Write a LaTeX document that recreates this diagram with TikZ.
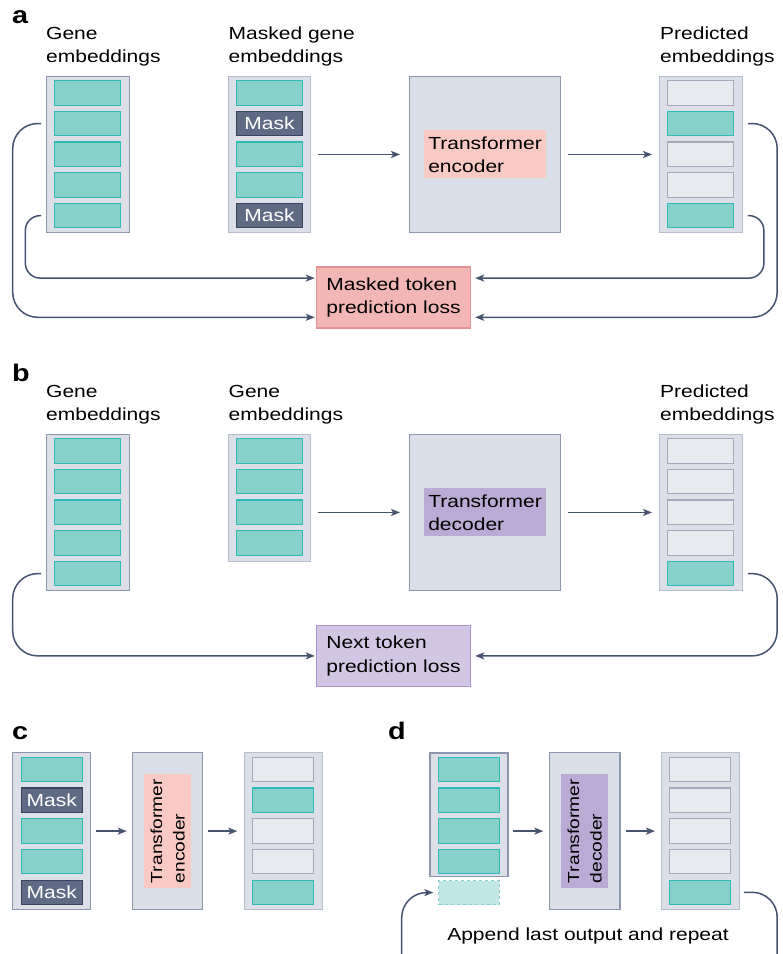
\documentclass[tikz,border=0pt]{standalone}
\usepackage{fontspec}
\setmainfont{Liberation Sans}[FakeStretch=1.2]
\usetikzlibrary{arrows.meta,calc}
\definecolor{colfill}{HTML}{DCDFE8}
\definecolor{colbd}{HTML}{8D96AE}
\definecolor{colbdl}{HTML}{B7BECE}
\definecolor{tealfill}{HTML}{88D0CC}
\definecolor{tealbd}{HTML}{2FBAB5}
\definecolor{maskfill}{HTML}{5F6A85}
\definecolor{maskbd}{HTML}{3A4462}
\definecolor{grayfill}{HTML}{E8EAEF}
\definecolor{graybd}{HTML}{A3A9BB}
\definecolor{tfill}{HTML}{DADEE7}
\definecolor{tbd}{HTML}{8E98B0}
\definecolor{pinklab}{HTML}{F9C9C4}
\definecolor{lossafill}{HTML}{F2B7B5}
\definecolor{lossabd}{HTML}{E59191}
\definecolor{purplab}{HTML}{B9ABD4}
\definecolor{lossbfill}{HTML}{D1C7E4}
\definecolor{lossbbd}{HTML}{A894CC}
\definecolor{arr}{HTML}{46536E}
\definecolor{dashfill}{HTML}{C0E6E6}
\newcommand\mainsz{\fontsize{17.5}{23.3}\selectfont}
\newcommand\vsz{\fontsize{16}{22.5}\selectfont}
\newcommand\lettersz{\fontsize{24}{24}\selectfont\bfseries}
\begin{document}
\begin{tikzpicture}[x=1pt,y=-1pt,
  col/.style={draw=colbd, fill=colfill, line width=1.2pt, inner sep=0pt, anchor=north west},
  coll/.style={col, draw=colbdl},
  cellbase/.style={inner sep=0pt, anchor=north west, line width=1.1pt, minimum height=24.5pt, font=\mainsz},
  tcell/.style={cellbase, fill=tealfill, draw=tealbd},
  gcell/.style={cellbase, fill=grayfill, draw=graybd},
  mcell/.style={cellbase, fill=maskfill, draw=maskbd, text=white},
  tbox/.style={draw=tbd, fill=tfill, line width=1.2pt, anchor=north west, inner sep=0pt},
  hlab/.style={fill=pinklab, inner xsep=4.3pt, inner ysep=0pt, minimum height=48pt, align=left, font=\mainsz, text=black},
  vlab/.style={rotate=90, inner xsep=5pt, inner ysep=0pt, minimum height=47pt, align=left, font=\vsz, text=black},
  loss/.style={inner xsep=10pt, inner ysep=0pt, minimum height=61pt, line width=1.2pt, align=left, font=\mainsz},
  header/.style={anchor=base west, align=left, inner sep=0pt, font=\mainsz},
  panel/.style={anchor=base west, inner sep=0pt, font=\lettersz},
  conn/.style={draw=arr, line width=1.5pt, -{Stealth[length=9pt,width=7pt,inset=2.2pt]}}
]
\useasboundingbox (0,0) rectangle (783,954);
\clip (0,0) rectangle (783,954);
\fill[white] (0,0) rectangle (783,954);

% ---------------- panel a ----------------
\node[panel] (pla) at (12,23) {a};
\node[header] (ha1) at (46,62.3) {Gene\\embeddings};
\node[header] (ha2) at (228.5,62.3) {Masked gene\\embeddings};
\node[header] (ha3) at (660,62.3) {Predicted\\embeddings};

\node[col, minimum width=83.3pt, minimum height=156.3pt] (ga) at (45.7,75.7) {};
\foreach \s [count=\i] in {tcell,tcell,tcell,tcell,tcell}
  \node[\s, minimum width=65.7pt] (ga\i) at ({54.3}, {80+(\i-1)*30.7}) {};

\node[coll, minimum width=82.3pt, minimum height=156.3pt] (ma) at (227.7,75.7) {};
\foreach \s/\t [count=\i] in {tcell/,mcell/Mask,tcell/,tcell/,mcell/Mask}
  \node[\s, minimum width=66pt] (ma\i) at ({236}, {80+(\i-1)*30.7}) {\t};

\node[tbox, minimum width=151pt, minimum height=156.3pt] (ta) at (409,75.7) {};
\node[hlab] (tal) at (ta.center) {Transformer\\encoder};

\node[coll, minimum width=83pt, minimum height=156.3pt] (pa) at (659,75.7) {};
\foreach \s [count=\i] in {gcell,tcell,gcell,gcell,tcell}
  \node[\s, minimum width=66pt] (pa\i) at ({667}, {80+(\i-1)*30.7}) {};

\node[loss, fill=lossafill, draw=lossabd] (la) at (393.5,297.5) {Masked token\\prediction loss};

\draw[conn] ($(ma.east |- ta.center)+(7,0)$) -- ($(ta.west)+(-9,0)$);
\draw[conn] ($(ta.east)+(7,0)$) -- ($(pa.west |- ta.center)+(-7,0)$);

\draw[conn, rounded corners=25pt] ($(ga.west |- ga2.west)+(-4.7,0)$) -- ++(-28.3,0) |- ($(la.south west)+(-1,-11.3)$);
\draw[conn, rounded corners=15pt] ($(ga.west |- ga5.west)+(-4.7,0)$) -- ++(-15.7,0) |- ($(la.north west)+(-1,11.7)$);
\draw[conn, rounded corners=25pt] ($(pa.east |- pa2.east)+(4.7,0)$) -- ++(29.3,0) |- ($(la.south east)+(4,-11.3)$);
\draw[conn, rounded corners=15pt] ($(pa.east |- pa5.east)+(4.7,0)$) -- ++(16,0) |- ($(la.north east)+(4,11.7)$);

% ---------------- panel b ----------------
\node[panel] (plb) at (12,381) {b};
\node[header] (hb1) at (46,420.7) {Gene\\embeddings};
\node[header] (hb2) at (228.5,420.7) {Gene\\embeddings};
\node[header] (hb3) at (660,420.7) {Predicted\\embeddings};

\node[col, minimum width=83.3pt, minimum height=156.3pt] (gb) at (45.7,433.7) {};
\foreach \s [count=\i] in {tcell,tcell,tcell,tcell,tcell}
  \node[\s, minimum width=65.7pt] (gb\i) at ({54.3}, {438+(\i-1)*30.7}) {};

\node[coll, minimum width=82.3pt, minimum height=127.3pt] (eb) at (227.7,433.7) {};
\foreach \s [count=\i] in {tcell,tcell,tcell,tcell}
  \node[\s, minimum width=66pt] (eb\i) at ({236}, {438+(\i-1)*30.7}) {};

\node[tbox, minimum width=151pt, minimum height=156.3pt] (tb) at (409,433.7) {};
\node[hlab, fill=purplab] (tbl) at (tb.center) {Transformer\\decoder};

\node[coll, minimum width=83pt, minimum height=156.3pt] (pb) at (659,433.7) {};
\foreach \s [count=\i] in {gcell,gcell,gcell,gcell,tcell}
  \node[\s, minimum width=66pt] (pb\i) at ({667}, {438+(\i-1)*30.7}) {};

\node[loss, fill=lossbfill, draw=lossbbd] (lb) at (393.5,655.9) {Next token\\prediction loss};

\draw[conn] ($(eb.east |- tb.center)+(7,0)$) -- ($(tb.west)+(-9,0)$);
\draw[conn] ($(tb.east)+(7,0)$) -- ($(pb.west |- tb.center)+(-7,0)$);

\draw[conn, rounded corners=25pt] ($(gb.west |- gb5.west)+(-4.7,0)$) -- ++(-28.3,0) |- ($(lb.west)+(-1,0)$);
\draw[conn, rounded corners=25pt] ($(pb.east |- pb5.east)+(4.7,0)$) -- ++(29.3,0) |- ($(lb.east)+(4,0)$);

% ---------------- panel c ----------------
\node[panel] (plc) at (12,739) {c};
\node[col, minimum width=78.3pt, minimum height=157pt] (cc) at (11.7,752) {};
\foreach \s/\t [count=\i] in {tcell/,mcell/Mask,tcell/,tcell/,mcell/Mask}
  \node[\s, minimum width=61pt] (cc\i) at ({20.7}, {756.7+(\i-1)*30.7}) {\t};

\node[tbox, minimum width=70pt, minimum height=157pt] (tc) at (132,752) {};
\node[vlab, fill=pinklab] (tcl) at (tc.center) {Transformer\\encoder};

\node[coll, minimum width=77.7pt, minimum height=157pt] (oc) at (244,752) {};
\foreach \s [count=\i] in {gcell,tcell,gcell,gcell,tcell}
  \node[\s, minimum width=60.7pt] (oc\i) at ({252}, {756.7+(\i-1)*30.7}) {};

\draw[conn] ($(cc.east |- tc.center)+(5,0)$) -- ($(tc.west)+(-5.3,0)$);
\draw[conn] ($(tc.east)+(4.7,0)$) -- ($(oc.west |- tc.center)+(-6.7,0)$);

% ---------------- panel d ----------------
\node[panel] (pld) at (388,739) {d};
\node[col, minimum width=78pt, minimum height=123.4pt] (id) at (429.3,752.3) {};
\foreach \s [count=\i] in {tcell,tcell,tcell,tcell}
  \node[\s, minimum width=60.4pt] (id\i) at ({438.3}, {756.7+(\i-1)*30.7}) {};
\node[anchor=north west, inner sep=0pt, minimum width=60.4pt, minimum height=24pt, fill=dashfill, draw=tealfill, dashed, line width=1.1pt] (dc) at (438.3,880) {};

\node[tbox, minimum width=70.3pt, minimum height=157pt] (td) at (549,752) {};
\node[vlab, fill=purplab] (tdl) at (td.center) {Transformer\\decoder};

\node[coll, minimum width=78pt, minimum height=157pt] (od) at (660.7,752) {};
\foreach \s [count=\i] in {gcell,gcell,gcell,gcell,tcell}
  \node[\s, minimum width=61pt] (od\i) at ({669.3}, {756.7+(\i-1)*30.7}) {};

\draw[conn] ($(id.east |- td.center)+(4.4,0)$) -- ($(td.west)+(-5.7,0)$);
\draw[conn] ($(td.east)+(5,0)$) -- ($(od.west |- td.center)+(-5.7,0)$);

\coordinate (dlow) at (401.7,1000);
\draw[conn, rounded corners=25pt] ($(od.east |- od5.east)+(4,0)$) -- ++(33.3,0) |- (dlow) |- ($(dc.west)+(-5,0)$);
\node[anchor=base, inner sep=0pt, font=\mainsz] (app) at (588,940.7) {Append last output and repeat};
\end{tikzpicture}
\end{document}
